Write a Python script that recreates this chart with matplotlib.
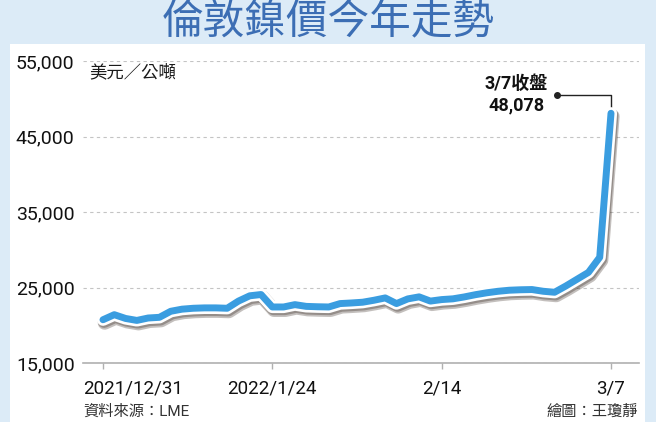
import numpy as np
import matplotlib.pyplot as plt
import matplotlib.patheffects as pe
from matplotlib.patches import Rectangle
from matplotlib.transforms import ScaledTranslation

plt.rcParams['font.family'] = ['Roboto', 'Noto Sans CJK TC', 'DejaVu Sans']

# LME nickel close, USD/t, one value per trading day 2021/12/31 .. 2022/3/7
prices = [20730, 21400, 20900, 20640, 20960, 21050, 21850, 22130, 22250, 22300,
          22300, 22250, 23200, 23900, 24070, 22420, 22420, 22730, 22500, 22450,
          22420, 22870, 22950, 23050, 23310, 23620, 22870, 23490, 23760, 23200,
          23400, 23500, 23750, 24050, 24300, 24500, 24640, 24700, 24730, 24500,
          24370, 25200, 26100, 27000, 29000, 48078]
tick_idx = [0, 15, 30, 45]
tick_labels = ['2021/12/31', '2022/1/24', '2/14', '3/7']
yticks = [15000, 25000, 35000, 45000, 55000]

blue = '#3a9de0'
fig = plt.figure(figsize=(6.56, 4.22), dpi=100, facecolor='#dcebf7')
fig.patches.append(Rectangle((10 / 656, 0), 635 / 656, 378 / 422,
                             transform=fig.transFigure, facecolor='white',
                             edgecolor='none', zorder=-10))

fig.text(0.5, 1 - 23 / 422, '倫敦鎳價今年走勢', ha='center', va='center',
         fontsize=30, color='#3c6eb4', family=['Noto Sans CJK TC'])

ax = fig.add_axes([83 / 656, 1 - 363 / 422, 556 / 656, 302 / 422])
ax.set_zorder(2)
ax.set_facecolor('none')
x = np.arange(len(prices))
ax.set_xlim(-1.77, 47.48)
ax.set_ylim(15000, 55000)

line, = ax.plot(x, prices, color=blue, lw=5, solid_joinstyle='round',
                solid_capstyle='round', zorder=3)
line.set_path_effects([
    pe.SimpleLineShadow(offset=(1.2, -2.2), shadow_color='#2a1c12', alpha=0.28, linewidth=10),
    pe.SimpleLineShadow(offset=(0.8, -1.4), shadow_color='#2a1c12', alpha=0.3, linewidth=9),
    pe.Stroke(linewidth=8.8, foreground='white'),
    pe.Normal()])

# close annotation
last_x, last_y = x[-1], prices[-1]
dot_x, dot_y = last_x - 4.8, last_y + 2400
ax.plot([dot_x, last_x, last_x], [dot_y, dot_y, last_y], color='#222222', lw=1.0, zorder=2)
ax.plot(dot_x, dot_y, 'o', color='#222222', ms=4, zorder=2)
ax.text(dot_x - 3.6, dot_y, '3/7收盤\n{:,}'.format(last_y), ha='center', va='center',
        fontsize=13, fontweight='bold', color='#111111', linespacing=1.25)

ax.text(0.012, 53500, '美元／公噸', fontsize=12.5, color='#1a1a1a', va='center',
        transform=ax.get_yaxis_transform())

ax.set_yticks(yticks)
ax.set_yticklabels(['{:,}'.format(v) for v in yticks])
ax.yaxis.grid(True, linestyle=(0, (3, 3)), color='#c4c4c4', lw=0.8)
ax.tick_params(axis='y', length=0, pad=6, labelsize=14, labelcolor='#111111')
ax.set_xticks(tick_idx)
ax.set_xticklabels(tick_labels)
ax.tick_params(axis='x', length=4, width=1, color='#b0b0b0', pad=8,
               labelsize=13.5, labelcolor='#111111')
first = ax.get_xticklabels()[0]
first.set_ha('left')
first.set_transform(first.get_transform() + ScaledTranslation(-0.20, 0, fig.dpi_scale_trans))

for s in ['left', 'right', 'top']:
    ax.spines[s].set_visible(False)
ax.spines['bottom'].set_color('#b0b0b0')
ax.spines['bottom'].set_linewidth(1.2)
ax.set_axisbelow(True)

fig.text(83 / 656, 1 - 412 / 422, '資料來源：LME', fontsize=11, va='center', color='#333333')
fig.text(638 / 656, 1 - 412 / 422, '繪圖：王瓊靜', fontsize=11, va='center', ha='right',
         color='#333333')

fig.savefig('out.png', dpi=100, facecolor=fig.get_facecolor())
